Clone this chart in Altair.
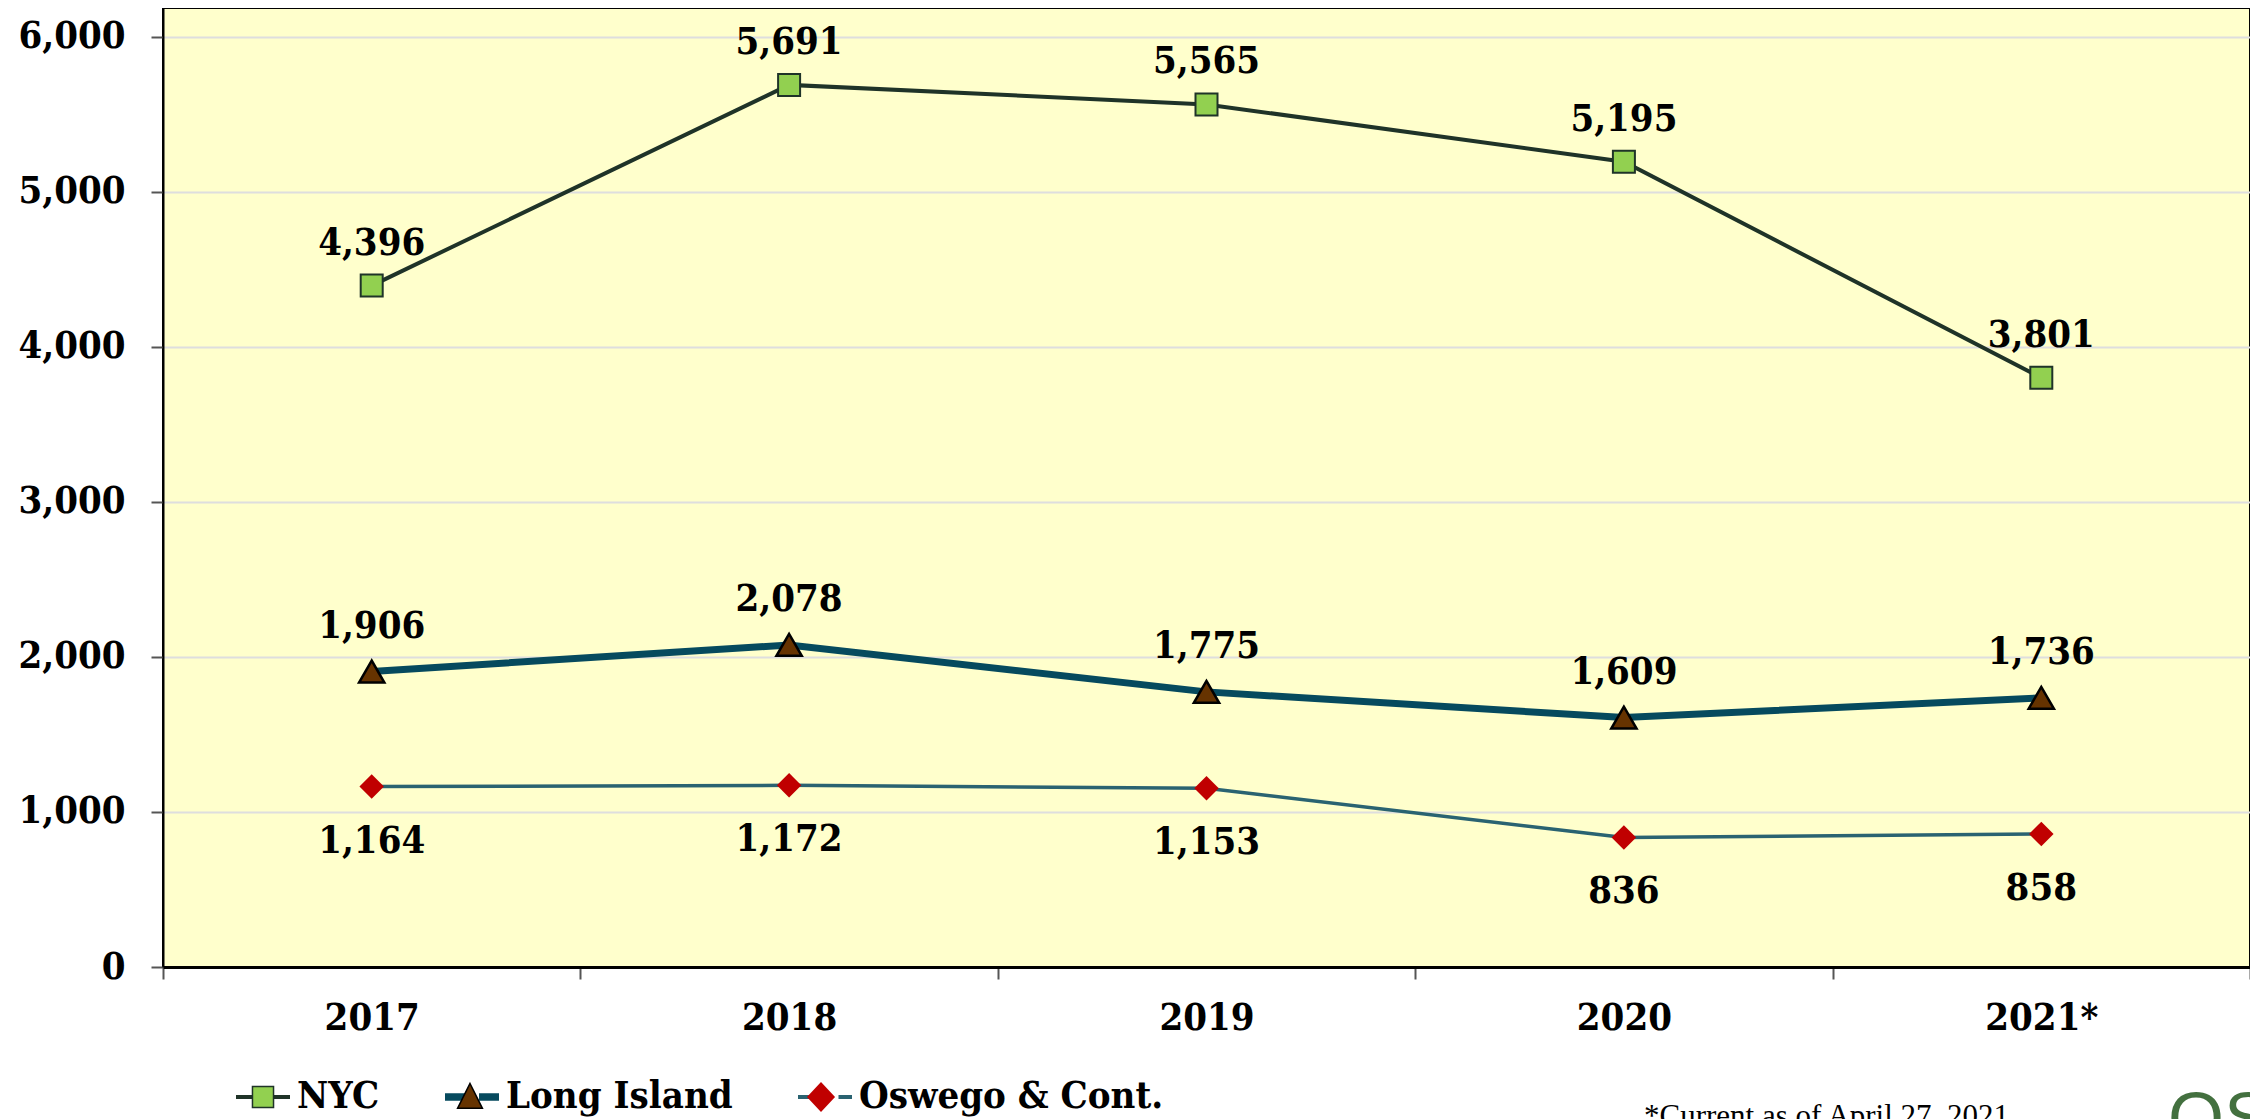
import altair as alt
import pandas as pd

years = ["2017", "2018", "2019", "2020", "2021*"]
series_names = ["NYC", "Long Island", "Oswego & Cont."]
nyc = [4396, 5691, 5565, 5195, 3801]
long_island = [1906, 2078, 1775, 1609, 1736]
oswego = [1164, 1172, 1153, 836, 858]
y_ticks = [0, 1000, 2000, 3000, 4000, 5000, 6000]
footnote = "*Current as of April 27, 2021"
logo_text = "OS"

FONT = "DejaVu Serif Condensed, DejaVu Serif, serif"

rows = []
for name, vals in zip(series_names, [nyc, long_island, oswego]):
    for yr, v in zip(years, vals):
        rows.append({"year": yr, "series": name, "value": v})
df = pd.DataFrame(rows)

line_colors = ["#1f3328", "#064a5e", "#2a6371"]
line_widths = [4, 7, 3.5]
marker_shapes = ["square", "triangle-up", "diamond"]
marker_sizes = [484, 640, 600]
marker_fills = ["#92d050", "#663300", "#c00000"]
marker_strokes = ["#1f3328", "#000000", "#c00000"]
marker_stroke_w = [2, 2.5, 0]
label_dy = [-31, -34, 66]

x_enc = alt.X(
    "year:N",
    sort=years,
    bandPosition=0.5,
    scale=alt.Scale(type="band", domain=years, paddingInner=0, paddingOuter=0),
    axis=alt.Axis(
        title=None,
        labelAngle=0,
        tickBand="extent",
        ticks=True,
        tickSize=12,
        tickColor="#555555",
        tickWidth=2,
        domainColor="black",
        domainWidth=3,
        labelPadding=20,
        grid=False,
    ),
)
y_enc = alt.Y(
    "value:Q",
    scale=alt.Scale(domain=[0, 6187], nice=False),
    axis=alt.Axis(
        title=None,
        values=y_ticks,
        format=",.0f",
        grid=True,
        gridColor="#dedede",
        gridWidth=2,
        tickSize=12,
        tickColor="#555555",
        tickWidth=2,
        domainColor="black",
        domainWidth=2,
        labelPadding=26,
    ),
)

base = alt.Chart(df)
layers = []
for i, name in enumerate(series_names):
    sub = base.transform_filter(alt.datum.series == name)
    layers.append(
        sub.mark_line(color=line_colors[i], strokeWidth=line_widths[i]).encode(x=x_enc, y=y_enc)
    )
for i, name in enumerate(series_names):
    sub = base.transform_filter(alt.datum.series == name)
    layers.append(
        sub.mark_point(
            shape=marker_shapes[i],
            size=marker_sizes[i],
            filled=True,
            fill=marker_fills[i],
            stroke=marker_strokes[i],
            strokeWidth=marker_stroke_w[i],
            opacity=1,
        ).encode(x=x_enc, y=y_enc)
    )
    layers.append(
        sub.mark_text(
            font=FONT, fontSize=38, fontWeight="bold", color="black",
            dy=label_dy[i], baseline="alphabetic", align="center",
        ).encode(x=x_enc, y=y_enc, text=alt.Text("value:Q", format=","))
    )

# legend: line segments (layer A) + markers (layer B), drawn at the same position
line_paths = [
    "M-1,-0.075H-0.38V0.075H-1Z M0.38,-0.075H1V0.075H0.38Z",
    "M-1,-0.14H-0.26V0.14H-1Z M0.26,-0.14H1V0.14H0.26Z",
    "M-1,-0.07H-0.5V0.07H-1Z M0.5,-0.07H1V0.07H0.5Z",
]
marker_paths = [
    "M-0.39,-0.39H0.39V0.39H-0.39Z",
    "M0,-0.5L0.46,0.42L-0.46,0.42Z",
    "M0,-0.56L0.52,0L0,0.56L-0.52,0Z",
]
legend_common = dict(
    orient="none",
    legendX=72,
    legendY=1061,
    direction="horizontal",
    title=None,
    symbolSize=2916,
    symbolOpacity=1,
    labelFont=FONT,
    labelFontSize=38,
    labelFontWeight="bold",
    labelColor="black",
    labelLimit=600,
    labelOffset=6,
    columnPadding=62,
    padding=0,
)
legA = base.transform_filter("false").mark_point(filled=True, size=2916, strokeWidth=0, opacity=1).encode(
    x=x_enc, y=y_enc,
    fill=alt.Fill("series:N", scale=alt.Scale(domain=series_names, range=line_colors),
                  legend=alt.Legend(**legend_common)),
    shape=alt.Shape("series:N", scale=alt.Scale(domain=series_names, range=line_paths),
                    legend=alt.Legend(**legend_common)),
)
legB = base.transform_filter("false").mark_point(filled=True, size=2916, strokeWidth=2, opacity=1).encode(
    x=x_enc, y=y_enc,
    fill=alt.Fill("series:N", scale=alt.Scale(domain=series_names, range=marker_fills),
                  legend=alt.Legend(labelOpacity=0, **legend_common)),
    shape=alt.Shape("series:N", scale=alt.Scale(domain=series_names, range=marker_paths),
                    legend=alt.Legend(labelOpacity=0, **legend_common)),
    stroke=alt.Stroke("series:N", scale=alt.Scale(domain=series_names, range=["#1f3328", "#000000", "transparent"]),
                      legend=alt.Legend(labelOpacity=0, **legend_common)),
)

notes = alt.Chart(pd.DataFrame({"t": [footnote]})).mark_text(
    font="Liberation Serif", fontSize=31, color="black", align="left", baseline="alphabetic"
).encode(text="t:N", x=alt.value(1481), y=alt.value(1118))
logo = alt.Chart(pd.DataFrame({"t": [logo_text]})).mark_text(
    font="Liberation Sans", fontSize=72, color="#43703f", align="left", baseline="alphabetic"
).encode(text="t:N", x=alt.value(2005), y=alt.value(1135))

chart = (
    alt.layer(*layers, legA, legB, notes, logo)
    .resolve_scale(fill="independent", shape="independent", stroke="independent")
    .resolve_legend(fill="independent", shape="independent", stroke="independent")
    .properties(
        width=2087,
        height=959,
        autosize=alt.AutoSizeParams(type="none"),
        padding={"left": 155, "top": 0, "right": 0, "bottom": 170},
    )
    .configure_view(fill="#ffffcc", stroke="black", strokeWidth=2)
    .configure_axis(labelFont=FONT, labelFontSize=38, labelFontWeight="bold", labelColor="black")
)

chart.save("out.html", embed_options={"renderer": "svg", "actions": False})
